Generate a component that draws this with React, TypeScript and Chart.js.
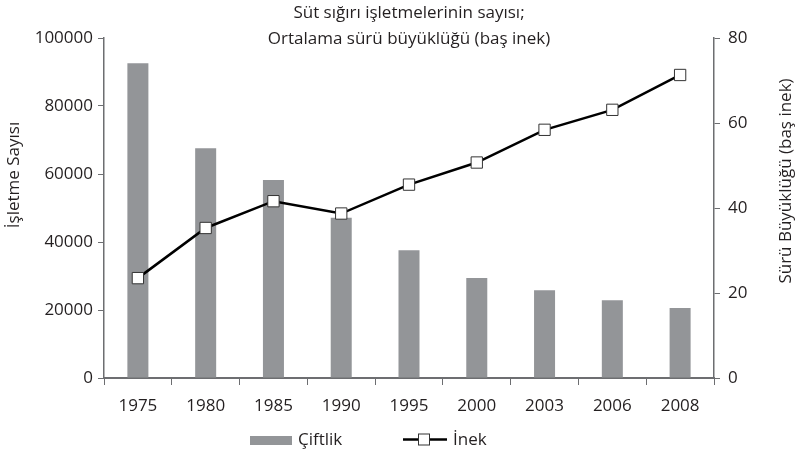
import React, { useEffect, useRef } from 'react';
import { Chart, registerables } from 'chart.js';
Chart.register(...registerables);

const years = ['1975', '1980', '1985', '1990', '1995', '2000', '2003', '2006', '2008'];
const farms = [92600, 67600, 58200, 47100, 37600, 29400, 25800, 22900, 20600];
const herdSize = [23.5, 35.3, 41.6, 38.7, 45.5, 50.7, 58.4, 63.1, 71.3];
const leftTicks = [0, 20000, 40000, 60000, 80000, 100000];
const rightTicks = [0, 20, 40, 60, 80];
const titleLines = ['Süt sığırı işletmelerinin sayısı;', 'Ortalama sürü büyüklüğü (baş inek)'];
const leftTitle = 'İşletme Sayısı';
const rightTitle = 'Sürü Büyüklüğü (baş inek)';
const barLabel = 'Çiftlik';
const lineLabel = 'İnek';

const FONT = "'Open Sans', sans-serif";
const TEXT = '#231f20';
const AXIS = '#6d6e71';
const BAR = '#939598';

const decor = {
  id: 'decor',
  afterDraw(chart: any) {
    const ctx = chart.ctx;
    const area = chart.chartArea;
    const cx = (area.left + area.right) / 2;
    ctx.save();
    ctx.fillStyle = TEXT;
    ctx.font = `17px ${FONT}`;
    ctx.textAlign = 'center';
    ctx.textBaseline = 'middle';
    ctx.fillText(titleLines[0], cx, 13);
    ctx.fillText(titleLines[1], cx, 39);

    ctx.save();
    ctx.translate(14.5, 175);
    ctx.rotate(-Math.PI / 2);
    ctx.fillText(leftTitle, 0, 0);
    ctx.restore();

    ctx.save();
    ctx.translate(786.5, 181);
    ctx.rotate(-Math.PI / 2);
    ctx.fillText(rightTitle, 0, 0);
    ctx.restore();

    // legend
    ctx.textAlign = 'left';
    ctx.fillStyle = BAR;
    ctx.fillRect(250, 436, 42, 9);
    ctx.fillStyle = TEXT;
    ctx.fillText(barLabel, 298, 440);

    ctx.strokeStyle = '#000';
    ctx.lineWidth = 2.5;
    ctx.beginPath();
    ctx.moveTo(403, 439.5);
    ctx.lineTo(447, 439.5);
    ctx.stroke();
    ctx.fillStyle = '#fff';
    ctx.strokeStyle = '#333';
    ctx.lineWidth = 1;
    ctx.fillRect(418.5, 434, 11, 11);
    ctx.strokeRect(418.5, 434, 11, 11);
    ctx.fillStyle = TEXT;
    ctx.fillText(lineLabel, 453, 440);
    ctx.restore();
  },
};

export default function App() {
  const ref = useRef<HTMLCanvasElement | null>(null);
  useEffect(() => {
    if (!ref.current) return;
    Chart.defaults.font.family = FONT;
    Chart.defaults.font.size = 17;
    Chart.defaults.color = TEXT;
    const chart = new Chart(ref.current, {
      type: 'bar',
      data: {
        labels: years,
        datasets: [
          {
            type: 'line',
            label: lineLabel,
            data: herdSize,
            yAxisID: 'y1',
            borderColor: '#000',
            borderWidth: 2.5,
            pointStyle: 'rect',
            pointRadius: 8,
            pointBackgroundColor: '#fff',
            pointBorderColor: '#333',
            pointBorderWidth: 1,
            tension: 0,
            order: 0,
          } as any,
          {
            type: 'bar',
            label: barLabel,
            data: farms,
            yAxisID: 'y',
            backgroundColor: BAR,
            borderWidth: 0,
            barPercentage: 0.31,
            categoryPercentage: 1,
            order: 1,
          } as any,
        ],
      },
      options: {
        animation: false,
        responsive: false,
        maintainAspectRatio: false,
        layout: { padding: { top: 38, left: 0, right: 0, bottom: 0 } },
        plugins: { legend: { display: false }, tooltip: { enabled: false }, title: { display: false } },
        scales: {
          x: {
            offset: true,
            grid: { display: true, drawOnChartArea: false, drawTicks: true, tickLength: 7, color: AXIS, offset: true },
            border: { color: AXIS, width: 2 },
            ticks: { padding: 11, color: TEXT, maxRotation: 0, autoSkip: false },
            afterFit: (s: any) => { s.height = 75; },
          },
          y: {
            position: 'left',
            min: 0,
            max: 100000,
            afterBuildTicks: (s: any) => { s.ticks = leftTicks.map((v) => ({ value: v })); },
            grid: { display: true, drawOnChartArea: false, drawTicks: true, tickLength: 6, color: AXIS },
            border: { color: AXIS, width: 1.5 },
            ticks: { padding: 5, color: TEXT, callback: (v: any) => String(v) },
            afterFit: (s: any) => { s.width = 104; },
          },
          y1: {
            position: 'right',
            min: 0,
            max: 80,
            afterBuildTicks: (s: any) => { s.ticks = rightTicks.map((v) => ({ value: v })); },
            grid: { display: true, drawOnChartArea: false, drawTicks: true, tickLength: 6, color: AXIS },
            border: { color: AXIS, width: 1.5 },
            ticks: { padding: 8, color: TEXT, callback: (v: any) => String(v) },
            afterFit: (s: any) => { s.width = 82; },
          },
        },
      },
      plugins: [decor],
    });
    return () => chart.destroy();
  }, []);
  return (
    <div style={{ position: 'absolute', left: 0, top: 0, width: 796, height: 453 }}>
      <canvas ref={ref} width={796} height={453} style={{ width: 796, height: 453, display: 'block' }} />
    </div>
  );
}
